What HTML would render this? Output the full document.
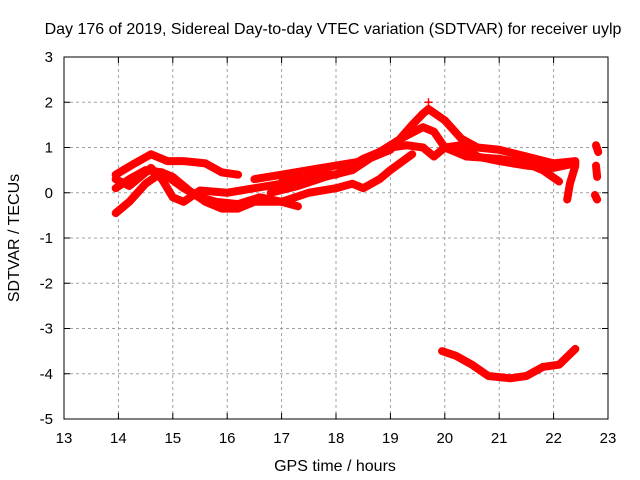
<!DOCTYPE html>
<html><head><meta charset="utf-8"><style>
body{margin:0;background:#fff;}
svg{display:block;font-family:"Liberation Sans",sans-serif;}
</style></head><body>
<svg id="chart" width="640" height="480">
<text x="333" y="34" font-size="16" text-anchor="middle">Day 176 of 2019, Sidereal Day-to-day VTEC variation (SDTVAR) for receiver uylp</text>
<g id="grid"></g>
<g id="marks"></g>
<rect x="64" y="57" width="544" height="362" fill="none" stroke="#000" stroke-width="1"/>
<g id="ticks"></g>
<text x="335" y="471" font-size="16" text-anchor="middle">GPS time / hours</text>
<text transform="translate(19,238) rotate(-90)" font-size="16" text-anchor="middle">SDTVAR / TECUs</text>
</svg>
<script>
const xTicks=[13,14,15,16,17,18,19,20,21,22,23];
const yTicks=[-5,-4,-3,-2,-1,0,1,2,3];
const track1=[[13.95,-0.45],[14.2,-0.2],[14.5,0.2],[14.8,0.45],[15.0,0.35],[15.3,0.05],[15.6,-0.2],[15.9,-0.35],[16.2,-0.35],[16.5,-0.2],[17.0,-0.2],[17.5,0.0],[18.0,0.1],[18.3,0.2],[18.5,0.1],[18.8,0.3],[19.0,0.5],[19.4,0.85]];
const track2=[[13.95,0.1],[14.2,0.3],[14.5,0.5],[14.8,0.45],[15.2,0.1],[15.5,-0.1],[15.8,-0.2],[16.2,-0.25],[16.6,-0.1],[17.0,-0.2],[17.3,-0.3]];
const track3=[[13.95,0.3],[14.2,0.15],[14.4,0.35],[14.6,0.55],[14.8,0.3],[15.0,-0.1],[15.2,-0.2],[15.5,0.05],[16.0,0.0],[16.5,0.1],[17.0,0.2],[17.5,0.3]];
const track4=[[13.95,0.4],[14.3,0.65],[14.6,0.85],[14.9,0.7],[15.2,0.7],[15.6,0.65],[15.9,0.45],[16.2,0.4]];
const track5=[[16.5,0.3],[17.0,0.4],[17.5,0.5],[18.0,0.6],[18.5,0.7],[19.0,0.95],[19.4,1.5],[19.6,1.75],[19.7,1.85],[20.0,1.6],[20.3,1.2],[20.6,1.0],[21.0,0.95],[21.5,0.8],[22.0,0.65],[22.4,0.7]];
const track6=[[16.8,0.0],[17.3,0.15],[17.8,0.35],[18.3,0.5],[18.8,0.9],[19.2,1.2],[19.6,1.45],[19.8,1.35],[20.0,1.0],[20.3,1.05],[20.6,0.8],[21.0,0.7],[21.5,0.6],[22.0,0.55],[22.4,0.65]];
const track7=[[17.0,0.35],[17.5,0.4],[18.0,0.4],[18.5,0.75],[19.0,1.0],[19.3,1.05],[19.6,1.0],[19.8,0.8],[20.0,1.0],[20.4,0.8],[21.0,0.75],[21.5,0.65],[21.8,0.5],[22.1,0.25]];
const track8=[[19.95,-3.5],[20.2,-3.6],[20.5,-3.8],[20.8,-4.05],[21.2,-4.1],[21.5,-4.05],[21.8,-3.85],[22.1,-3.8],[22.4,-3.45]];
const track9=[[22.4,0.6],[22.3,0.2],[22.25,-0.15]];
const track10=[[22.78,1.05],[22.82,0.9]];
const track11=[[22.78,0.6],[22.8,0.35]];
const track12=[[22.76,-0.05],[22.8,-0.15]];
const tracks=[track1,track2,track3,track4,track5,track6,track7,track8,track9,track10,track11,track12];
const outliers=[[19.7,2.0]];

const X=v=>64+(v-13)*54.4;
const Y=v=>419-(v+5)*45.25;
const NS="http://www.w3.org/2000/svg";
const grid=document.getElementById('grid'),ticks=document.getElementById('ticks'),marks=document.getElementById('marks');
function mk(tag,attrs,parent){const e=document.createElementNS(NS,tag);for(const k in attrs)e.setAttribute(k,attrs[k]);parent.appendChild(e);return e;}
xTicks.forEach(t=>{
  if(t>13&&t<23){const g=mk('line',{x1:X(t),x2:X(t),y1:57,y2:419,stroke:'#a0a0a0','stroke-dasharray':'3,3'},grid);
  
  }
  mk('line',{x1:X(t),x2:X(t),y1:419,y2:413,stroke:'#000'},ticks);
  mk('line',{x1:X(t),x2:X(t),y1:57,y2:63,stroke:'#000'},ticks);
  const l=mk('text',{x:X(t),y:443,'font-size':15,'text-anchor':'middle'},ticks);l.textContent=t;
  
  
});
yTicks.forEach(t=>{
  if(t>-5&&t<3){const g=mk('line',{x1:64,x2:608,y1:Y(t),y2:Y(t),stroke:'#a0a0a0','stroke-dasharray':'3,3'},grid);
  
  }
  mk('line',{x1:64,x2:70,y1:Y(t),y2:Y(t),stroke:'#000'},ticks);
  mk('line',{x1:608,x2:602,y1:Y(t),y2:Y(t),stroke:'#000'},ticks);
  const l=mk('text',{x:53,y:Y(t)+5,'font-size':15,'text-anchor':'end'},ticks);l.textContent=t;
  
  
});
tracks.forEach(tr=>{
  const p=mk('polyline',{points:tr.map(d=>X(d[0])+','+Y(d[1])).join(' '),fill:'none',stroke:'#ff0000','stroke-width':8,'stroke-linejoin':'round','stroke-linecap':'round'},marks);
  
  
});
outliers.forEach(d=>{
  const p=mk('path',{d:`M${X(d[0])-4},${Y(d[1])}h8M${X(d[0])},${Y(d[1])-4}v8`,stroke:'#ff0000','stroke-width':1.5},marks);
  
  
});
</script>
</body></html>
